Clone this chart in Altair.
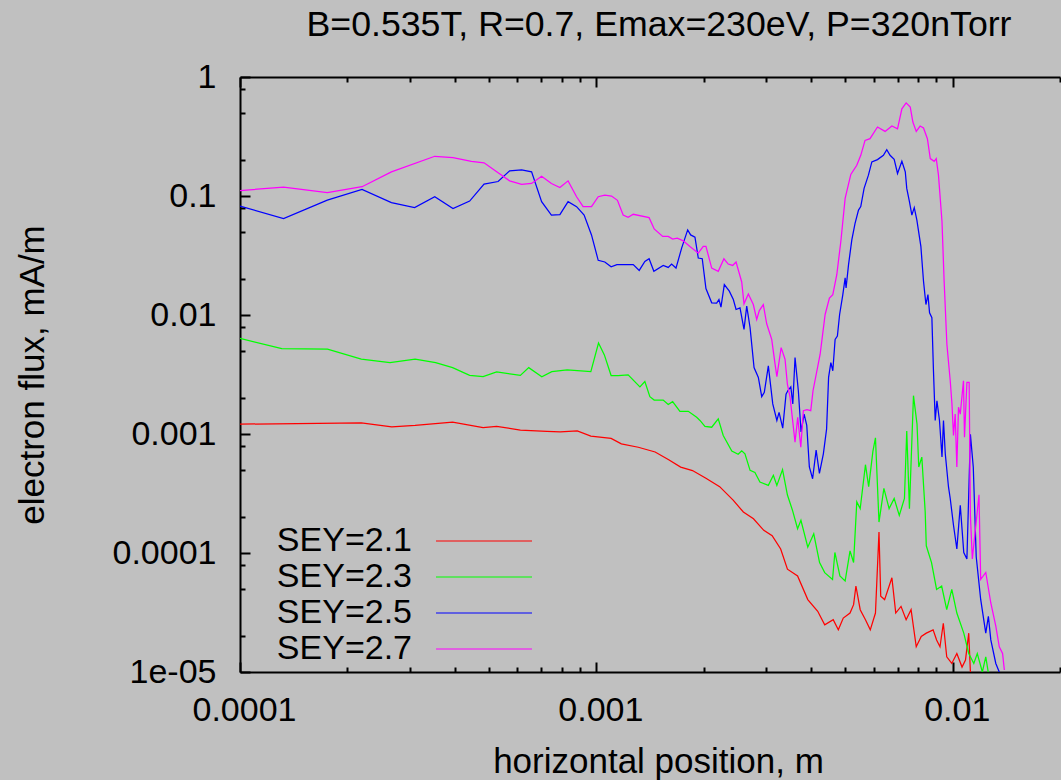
import altair as alt
import pandas as pd

FONT = "Liberation Sans"

title_text = "B=0.535T, R=0.7, Emax=230eV, P=320nTorr"
series_names = ["SEY=2.1", "SEY=2.3", "SEY=2.5", "SEY=2.7"]
series_colors = ["#ff0000", "#00ff00", "#0000ff", "#ff00ff"]

# SEY=2.1 (red)
rx = [1.00e-4, 2.19e-4, 2.666e-4, 3.10e-4, 3.95e-4, 4.81e-4, 5.25e-4, 6.12e-4, 7.26e-4, 7.92e-4,
      8.84e-4, 9.65e-4, 1.10e-3, 1.175e-3, 1.311e-3, 1.462e-3, 1.596e-3, 1.724e-3, 1.861e-3, 2.03e-3,
      2.218e-3, 2.42e-3, 2.585e-3, 2.76e-3, 2.95e-3, 3.114e-3, 3.29e-3, 3.437e-3, 3.67e-3, 3.92e-3,
      4.18e-3, 4.373e-3, 4.62e-3, 4.775e-3, 4.93e-3, 5.15e-3, 5.27e-3, 5.35e-3, 5.50e-3, 5.69e-3,
      5.87e-3, 6.07e-3, 6.21e-3, 6.28e-3, 6.44e-3, 6.75e-3, 6.92e-3, 7.16e-3, 7.40e-3, 7.64e-3,
      7.90e-3, 8.16e-3, 8.43e-3, 8.81e-3, 9.01e-3, 9.21e-3, 9.41e-3, 9.62e-3, 9.94e-3, 1.027e-2,
      1.062e-2, 1.086e-2, 1.109e-2, 1.121e-2, 1.135e-2]
ry = [0.00121, 0.00124, 0.00115, 0.00118, 0.00126, 0.00113, 0.00116, 0.00108, 0.00105, 0.00104,
      0.00106, 0.00096, 0.000917, 0.000826, 0.000774, 0.000706, 0.000608, 0.000527, 0.000493, 0.000425,
      0.000361, 0.000278, 0.000221, 0.000194, 0.000155, 0.00014, 0.000108, 7.31e-5, 6.41e-5, 4.06e-5,
      3.24e-5, 2.49e-5, 2.75e-5, 2.26e-5, 2.84e-5, 3.13e-5, 3.68e-5, 5.28e-5, 3.34e-5, 2.75e-5,
      2.26e-5, 3.13e-5, 0.00015, 4.34e-5, 4.06e-5, 6.2e-5, 3.13e-5, 3.56e-5, 2.75e-5, 3.34e-5,
      1.63e-5, 1.99e-5, 2.12e-5, 2.26e-5, 1.86e-5, 1.63e-5, 2.57e-5, 1.34e-5, 1.18e-5, 1.43e-5,
      1.1e-5, 1.26e-5, 2.12e-5, 1.0e-5, 8e-6]

# SEY=2.3 (green)
gx = [1.00e-4, 1.31e-4, 1.76e-4, 2.19e-4, 2.636e-4, 3.10e-4, 3.54e-4, 3.95e-4, 4.41e-4, 4.81e-4,
      5.25e-4, 6.12e-4, 6.46e-4, 7.03e-4, 7.50e-4, 8.28e-4, 9.65e-4, 1.014e-3, 1.053e-3, 1.10e-3,
      1.151e-3, 1.228e-3, 1.325e-3, 1.368e-3, 1.413e-3, 1.453e-3, 1.54e-3, 1.591e-3, 1.637e-3, 1.716e-3,
      1.811e-3, 1.912e-3, 1.953e-3, 2.017e-3, 2.107e-3, 2.198e-3, 2.27e-3, 2.399e-3, 2.50e-3, 2.558e-3,
      2.612e-3, 2.70e-3, 2.786e-3, 2.877e-3, 3.038e-3, 3.138e-3, 3.21e-3, 3.33e-3, 3.437e-3, 3.55e-3,
      3.67e-3, 3.75e-3, 3.92e-3, 4.074e-3, 4.23e-3, 4.373e-3, 4.60e-3, 4.67e-3, 4.824e-3, 4.99e-3,
      5.15e-3, 5.27e-3, 5.38e-3, 5.50e-3, 5.69e-3, 5.81e-3, 5.97e-3, 6.07e-3, 6.21e-3, 6.41e-3,
      6.63e-3, 6.85e-3, 7.08e-3, 7.32e-3, 7.43e-3, 7.56e-3, 7.76e-3, 7.94e-3, 8.03e-3, 8.19e-3,
      8.37e-3, 8.43e-3, 8.72e-3, 9.01e-3, 9.31e-3, 9.62e-3, 9.94e-3, 1.027e-2, 1.074e-2, 1.109e-2,
      1.146e-2, 1.172e-2, 1.211e-2, 1.238e-2, 1.265e-2]
gy = [0.00636, 0.00522, 0.00516, 0.00425, 0.00398, 0.00425, 0.00398, 0.00361, 0.00311, 0.00303,
      0.00332, 0.00311, 0.00361, 0.00303, 0.00334, 0.00345, 0.00334, 0.00581, 0.00462, 0.0031,
      0.0031, 0.00314, 0.00249, 0.00276, 0.00206, 0.00193, 0.00193, 0.00177, 0.00187, 0.00155,
      0.00155, 0.00138, 0.0013, 0.00116, 0.00114, 0.00134, 0.000972, 0.000718, 0.000675, 0.000722,
      0.000682, 0.000495, 0.000476, 0.000395, 0.00037, 0.00045, 0.00037, 0.000503, 0.000307, 0.000229,
      0.00016, 0.000188, 0.000112, 0.000145, 8.32e-5, 6.84e-5, 6.0e-5, 0.000101, 6.41e-5, 5.81e-5,
      0.000104, 8.32e-5, 0.000269, 0.000236, 0.000552, 0.000361, 0.000715, 0.00093, 0.000182, 0.000349,
      0.000236, 0.000287, 0.000207, 0.000287, 0.00106, 0.000236, 0.0021, 0.00121, 0.000528, 0.00064,
      0.000222, 0.000115, 8.3e-5, 4.94e-5, 5.28e-5, 3.34e-5, 4.94e-5, 3.13e-5, 2.12e-5, 1.43e-5,
      1.18e-5, 1.43e-5, 1.0e-5, 1.34e-5, 9e-6]

# SEY=2.5 (blue)
bx = [1.00e-4, 1.325e-4, 1.758e-4, 2.20e-4, 2.66e-4, 3.09e-4, 3.52e-4, 3.96e-4, 4.41e-4, 4.84e-4,
      5.30e-4, 5.71e-4, 6.17e-4, 6.58e-4, 7.02e-4, 7.48e-4, 7.90e-4, 8.33e-4, 8.80e-4, 9.24e-4,
      9.69e-4, 1.012e-3, 1.056e-3, 1.10e-3, 1.142e-3, 1.269e-3, 1.319e-3, 1.368e-3, 1.406e-3, 1.45e-3,
      1.54e-3, 1.591e-3, 1.626e-3, 1.673e-3, 1.735e-3, 1.804e-3, 1.839e-3, 1.891e-3, 1.932e-3, 1.982e-3,
      2.03e-3, 2.107e-3, 2.176e-3, 2.208e-3, 2.237e-3, 2.286e-3, 2.361e-3, 2.423e-3, 2.466e-3, 2.53e-3,
      2.596e-3, 2.642e-3, 2.70e-3, 2.77e-3, 2.848e-3, 2.911e-3, 2.960e-3, 3.038e-3, 3.126e-3, 3.21e-3,
      3.256e-3, 3.334e-3, 3.406e-3, 3.445e-3, 3.513e-3, 3.558e-3, 3.61e-3, 3.688e-3, 3.753e-3, 3.828e-3,
      3.894e-3, 3.96e-3, 4.044e-3, 4.137e-3, 4.226e-3, 4.335e-3, 4.426e-3, 4.484e-3, 4.55e-3, 4.608e-3,
      4.677e-3, 4.746e-3, 4.815e-3, 4.916e-3, 4.99e-3, 5.02e-3, 5.10e-3, 5.21e-3, 5.32e-3, 5.44e-3,
      5.52e-3, 5.64e-3, 5.80e-3, 5.93e-3, 6.15e-3, 6.39e-3, 6.53e-3, 6.67e-3, 6.85e-3, 7.00e-3,
      7.20e-3, 7.36e-3, 7.43e-3, 7.56e-3, 7.68e-3, 7.80e-3, 7.93e-3, 8.14e-3, 8.28e-3, 8.41e-3,
      8.52e-3, 8.61e-3, 8.74e-3, 8.83e-3, 8.93e-3, 9.03e-3, 9.18e-3, 9.33e-3, 9.42e-3, 9.53e-3,
      9.73e-3, 9.84e-3, 1.005e-2, 1.027e-2, 1.050e-2, 1.074e-2, 1.096e-2, 1.121e-2, 1.142e-2, 1.164e-2,
      1.198e-2, 1.238e-2, 1.259e-2, 1.279e-2, 1.321e-2, 1.351e-2]
by = [0.0823, 0.0646, 0.0924, 0.1136, 0.0879, 0.0798, 0.0986, 0.0783, 0.0907, 0.1257,
      0.1324, 0.1627, 0.166, 0.1597, 0.0896, 0.0692, 0.0698, 0.0896, 0.0814, 0.0692,
      0.0471, 0.0288, 0.0279, 0.0254, 0.0265, 0.0265, 0.0237, 0.0282, 0.0297, 0.0233,
      0.0261, 0.0251, 0.0268, 0.0248, 0.0365, 0.0519, 0.0471, 0.0451, 0.0301, 0.0297,
      0.01667, 0.01265, 0.01257, 0.01349, 0.01164, 0.018, 0.01585, 0.01349, 0.01112, 0.01148,
      0.00757, 0.01187, 0.00781, 0.00362, 0.00299, 0.00206, 0.00224, 0.00374, 0.00179, 0.0013,
      0.00152, 0.00112, 0.00216, 0.00231, 0.00249, 0.00179, 0.00439, 0.00231, 0.00104, 0.00147,
      0.00118, 0.000528, 0.000421, 0.000733, 0.000466, 0.000682, 0.0011, 0.00299, 0.00398, 0.0034,
      0.00624, 0.00666, 0.0101, 0.01484, 0.0205, 0.01688, 0.0264, 0.0428, 0.059, 0.0762,
      0.0814, 0.1158, 0.1496, 0.1935, 0.2023, 0.2198, 0.2453, 0.2198, 0.2035, 0.1545,
      0.1958, 0.1597, 0.1158, 0.0896, 0.0692, 0.0798, 0.0629, 0.0377, 0.0192, 0.01224,
      0.01484, 0.01043, 0.00948, 0.0034, 0.0013, 0.0019, 0.0013, 0.00064, 0.0013, 0.000682,
      0.000359, 0.000287, 0.000171, 0.000108, 0.000252, 0.000101, 8.9e-5, 0.000993, 0.000528, 9.3e-5,
      4.07e-5, 2.12e-5, 2.94e-5, 1.86e-5, 1.18e-5, 1.0e-5]

# SEY=2.7 (magenta)
mx = [1.00e-4, 1.325e-4, 1.758e-4, 2.20e-4, 2.66e-4, 3.52e-4, 3.96e-4, 4.46e-4, 4.84e-4, 5.30e-4,
      5.71e-4, 6.17e-4, 6.58e-4, 7.02e-4, 7.48e-4, 7.90e-4, 8.33e-4, 8.80e-4, 9.18e-4, 9.69e-4,
      1.012e-3, 1.056e-3, 1.103e-3, 1.146e-3, 1.189e-3, 1.228e-3, 1.269e-3, 1.406e-3, 1.453e-3, 1.535e-3,
      1.591e-3, 1.637e-3, 1.687e-3, 1.753e-3, 1.830e-3, 1.932e-3, 1.995e-3, 2.03e-3, 2.107e-3, 2.198e-3,
      2.28e-3, 2.344e-3, 2.413e-3, 2.466e-3, 2.558e-3, 2.596e-3, 2.670e-3, 2.757e-3, 2.818e-3, 2.866e-3,
      2.941e-3, 3.006e-3, 3.105e-3, 3.173e-3, 3.21e-3, 3.30e-3, 3.384e-3, 3.436e-3, 3.496e-3, 3.61e-3,
      3.673e-3, 3.747e-3, 3.81e-3, 3.90e-3, 3.996e-3, 4.055e-3, 4.246e-3, 4.385e-3, 4.508e-3, 4.608e-3,
      4.728e-3, 4.853e-3, 4.99e-3, 5.176e-3, 5.38e-3, 5.52e-3, 5.675e-3, 5.86e-3, 6.15e-3, 6.46e-3,
      6.75e-3, 7.00e-3, 7.20e-3, 7.40e-3, 7.60e-3, 7.73e-3, 7.90e-3, 8.10e-3, 8.28e-3, 8.49e-3,
      8.65e-3, 8.87e-3, 8.99e-3, 9.12e-3, 9.33e-3, 9.46e-3, 9.63e-3, 9.84e-3, 9.95e-3, 1.005e-2,
      1.016e-2, 1.027e-2, 1.038e-2, 1.050e-2, 1.062e-2, 1.072e-2, 1.079e-2, 1.096e-2, 1.112e-2, 1.121e-2,
      1.135e-2, 1.185e-2, 1.198e-2, 1.238e-2, 1.279e-2, 1.321e-2, 1.351e-2, 1.380e-2, 1.396e-2]
my = [0.111, 0.1187, 0.1066, 0.1197, 0.1596, 0.2157, 0.2103, 0.1958, 0.190, 0.1567,
      0.134, 0.125, 0.1274, 0.1466, 0.1274, 0.118, 0.134, 0.0986, 0.0814, 0.0814,
      0.0986, 0.1017, 0.0998, 0.0919, 0.0692, 0.0662, 0.0702, 0.0658, 0.0529, 0.0457,
      0.0457, 0.0434, 0.0442, 0.0420, 0.0377, 0.0331, 0.0377, 0.0377, 0.0248, 0.0233,
      0.0297, 0.0268, 0.0261, 0.0279, 0.01895, 0.01241, 0.01504, 0.01224, 0.00917, 0.0109,
      0.01224, 0.00844, 0.00624, 0.00386, 0.00303, 0.00532, 0.00425, 0.00262, 0.00203, 0.000854,
      0.00138, 0.000776, 0.00157, 0.0016, 0.00157, 0.00231, 0.00468, 0.0101, 0.0139, 0.01484,
      0.0218, 0.0415, 0.0955, 0.1517, 0.1813, 0.2198, 0.2934, 0.303, 0.380, 0.349,
      0.387, 0.367, 0.540, 0.606, 0.558, 0.418, 0.349, 0.387, 0.3725, 0.303,
      0.2063, 0.1958, 0.2063, 0.1496, 0.061, 0.0192, 0.00567, 0.0028, 0.00179, 0.000972,
      0.00147, 0.000528, 0.00168, 0.00147, 0.0021, 0.0028, 0.00094, 0.00271, 0.00271, 0.000207,
      8.9e-5, 3.08e-4, 6.0e-5, 6.86e-5, 3.8e-5, 2.43e-5, 1.63e-5, 1.43e-5, 1.04e-5]

x_major = [1e-4, 1e-3, 1e-2]
x_major_labels = ["0.0001", "0.001", "0.01"]
x_minor = [2e-4, 3e-4, 4e-4, 5e-4, 6e-4, 7e-4, 8e-4, 9e-4,
           2e-3, 3e-3, 4e-3, 5e-3, 6e-3, 7e-3, 8e-3, 9e-3, 2e-2]
y_major = [1, 0.1, 0.01, 0.001, 0.0001, 1e-05]
y_major_labels = ["1", "0.1", "0.01", "0.001", "0.0001", "1e-05"]
y_minor = [0.8, 0.5, 0.2, 0.08, 0.05, 0.02, 0.008, 0.005, 0.002,
           0.0008, 0.0005, 0.0002, 8e-5, 5e-5, 2e-5]

frames = []
for name, xs_, ys_ in zip(series_names, [rx, gx, bx, mx], [ry, gy, by, my]):
    frames.append(pd.DataFrame({"series": name, "x": xs_, "y": ys_}))
df = pd.concat(frames, ignore_index=True)


def label_expr(values, labels):
    return "[" + ",".join("'%s'" % l for l in labels) + "][indexof([" + \
        ",".join(repr(v) for v in values) + "], datum.value)]"


xscale = alt.Scale(type="log", domain=[1e-4, 0.02], nice=False)
yscale = alt.Scale(type="log", domain=[1e-5, 1], nice=False)

base = alt.Chart(df)

lines = base.mark_line(strokeWidth=1.25, clip=True).encode(
    x=alt.X("x:Q", scale=xscale, axis=alt.Axis(
        orient="bottom", values=x_major, labelExpr=label_expr(x_major, x_major_labels),
        ticks=False, tickSize=0, domain=True, domainColor="black", domainWidth=2,
        labelFont=FONT, labelFontSize=34, labelColor="black", labelPadding=21, labelOffset=4,
        labelFlush=False, labelOverlap=False, grid=False,
        title="horizontal position, m", titleFont=FONT, titleFontSize=35,
        titleFontWeight="normal", titleColor="black", titleX=418, titleY=100,
        titleAlign="center", titleBaseline="alphabetic")),
    y=alt.Y("y:Q", scale=yscale, axis=alt.Axis(
        orient="left", values=y_major, labelExpr=label_expr(y_major, y_major_labels),
        ticks=False, tickSize=0, domain=True, domainColor="black", domainWidth=2,
        labelFont=FONT, labelFontSize=34, labelColor="black", labelPadding=24,
        labelFlush=False, labelOverlap=False, grid=False,
        title="electron flux, mA/m", titleFont=FONT, titleFontSize=35,
        titleFontWeight="normal", titleColor="black", titleX=-197, titleY=297.5,
        titleAngle=270, titleAlign="center", titleBaseline="alphabetic")),
    color=alt.Color("series:N",
                    scale=alt.Scale(domain=series_names, range=series_colors),
                    legend=alt.Legend(
                        orient="none", legendX=227, legendY=447, title=None,
                        symbolType="M-4,0H4", symbolSize=576, symbolStrokeWidth=1.2,
                        labelFont=FONT, labelFontSize=34, labelColor="black",
                        labelAlign="right", labelOffset={"expr": "-89"}, rowPadding=2,
                        padding=0, labelLimit=400)),
)


def tick_axis(orient, values, size):
    return alt.Axis(orient=orient, values=values, offset={"expr": str(-size)},
                    tickSize=size, tickWidth=2, tickColor="black", ticks=True,
                    labels=False, domain=False, grid=False, title=None)


def tick_layer(xaxis, yaxis):
    return base.mark_point(opacity=0).encode(
        x=alt.X("x:Q", scale=xscale, axis=xaxis),
        y=alt.Y("y:Q", scale=yscale, axis=yaxis),
    )


top_domain = alt.Axis(orient="top", values=x_major, ticks=False, labels=False,
                      domain=True, domainColor="black", domainWidth=2, grid=False,
                      title=None)

layers = [
    lines,
    tick_layer(tick_axis("bottom", x_major, 10), tick_axis("left", y_major, 10)),
    tick_layer(tick_axis("bottom", x_minor, 5), tick_axis("left", y_minor, 5)),
    tick_layer(tick_axis("top", x_major, 10), None),
    tick_layer(tick_axis("top", x_minor, 5), None),
    tick_layer(top_domain, None),
]

chart = alt.layer(*layers).resolve_axis(
    x="independent", y="independent"
).properties(
    width=820,
    height=595,
    padding={"left": 240, "top": 77, "right": 1, "bottom": 108},
    autosize=alt.AutoSizeParams(type="none"),
    background="#c0c0c0",
    title=alt.TitleParams(text=title_text, font=FONT, fontSize=35.7, fontWeight="normal",
                          color="black", anchor="middle", frame="group", dx=9, dy=34,
                          offset=22, baseline="alphabetic"),
).configure_view(stroke="transparent")

chart.save("out.html", embed_options={"renderer": "svg", "actions": False})
